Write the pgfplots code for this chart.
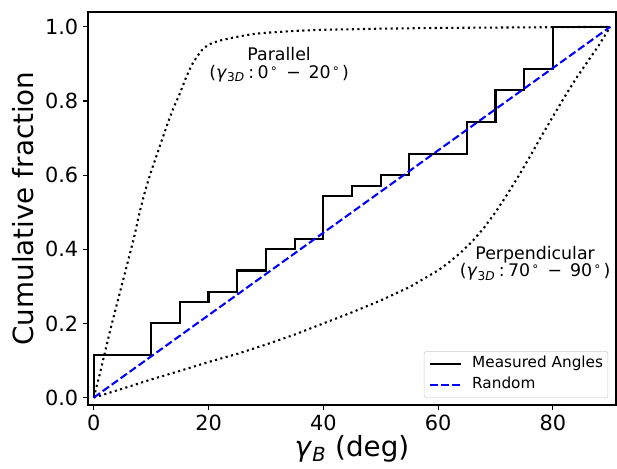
\documentclass[border=0pt]{standalone}
\usepackage{pgfplots}
\pgfplotsset{compat=1.18}
\usepackage{fontspec}
\setmainfont{DejaVu Sans}
\newcommand{\degsym}{\hspace{0.08em}\textsuperscript{∘}}
\begin{document}
\begin{tikzpicture}
\begin{axis}[
  scale only axis,
  width=380.2pt, height=283pt,
  xmin=-1, xmax=91, ymin=-0.02, ymax=1.04,
  axis line style={line width=0.8pt},
  tick pos=left,
  tick align=outside,
  major tick length=3.5pt,
  tick style={line width=0.8pt, black},
  xtick={0,20,40,60,80},
  ytick={0,0.2,0.4,0.6,0.8,1.0},
  /pgf/number format/assume math mode=true,
  yticklabel style={/pgf/number format/fixed, /pgf/number format/fixed zerofill, /pgf/number format/precision=1},
  ticklabel style={font=\fontsize{15}{18}\selectfont},
  xlabel={\textit{γ}\textsubscript{\textit{B}} (deg)},
  ylabel={Cumulative fraction},
  label style={font=\fontsize{20}{24}\selectfont},
  xlabel style={at={(axis description cs:0.5,-0.112)}, anchor=center},
  ylabel style={at={(axis description cs:-0.122,0.5)}, anchor=center},
  legend style={at={(axis description cs:1,0)}, anchor=south east, xshift=-5.6pt, yshift=5pt,
    draw=black!20, fill=white, fill opacity=0.8, text opacity=1, draw opacity=1,
    rounded corners=2pt, inner xsep=3.5pt, inner ysep=4.4pt, row sep=4.7pt, column sep=7.6pt,
    font=\fontsize{11}{13}\selectfont,
    nodes={inner sep=0pt, text height=0.75em, text depth=0.25em}},
  legend cell align=left,
  legend image code/.code={\draw[#1] (0pt,0pt) -- (22pt,0pt);},
]
% parallel model
\addplot[black, line width=1.5pt, dash pattern=on 1.5pt off 2.475pt, forget plot] coordinates {
(0,0)(0.5,0.03)(1,0.06)(2,0.125)(3,0.19)(4,0.25)(5,0.31)(6,0.37)(7,0.43)(8,0.50)(9,0.56)
(10,0.61)(11,0.655)(12,0.70)(13,0.745)(14,0.785)(15,0.82)(16,0.86)(17,0.895)(18,0.92)(19,0.94)
(20,0.952)(21,0.958)(22,0.963)(24,0.97)(26,0.976)(28,0.981)(30,0.984)(35,0.989)(40,0.992)
(50,0.995)(60,0.997)(70,0.998)(80,0.999)(90,1)};
% perpendicular model
\addplot[black, line width=1.5pt, dash pattern=on 1.5pt off 2.475pt, forget plot] coordinates {
(0,0)(5,0.024)(10,0.049)(15,0.072)(20,0.096)(25,0.118)(30,0.143)(35,0.17)(40,0.2)(45,0.23)
(50,0.262)(55,0.298)(60,0.343)(62,0.366)(64,0.392)(66,0.422)(68,0.458)(70,0.50)(72,0.547)
(74,0.597)(76,0.65)(78,0.705)(80,0.758)(82,0.81)(84,0.86)(86,0.905)(88,0.95)(90,1)};
% measured
\addplot[black, line width=1.5pt, const plot mark left] coordinates {
(0,0)(0,0.1143)(10,0.2)(15,0.2571)(20,0.2857)(25,0.3429)(30,0.4)(35,0.4286)(40,0.5429)
(45,0.5714)(50,0.6)(55,0.6571)(65,0.7429)(70,0.8286)(75,0.8857)(80,1)(90,1)};
\addlegendentry{Measured Angles}
% random
\addplot[blue, line width=1.5pt, dash pattern=on 5.55pt off 2.4pt] coordinates {(0,0)(90,1)};
\addlegendentry{Random}
\node[align=center, font=\fontsize{12.5}{12.5}\selectfont] at (axis cs:32.3,0.898)
  {Parallel\\(\textit{γ}\textsubscript{3\textit{D}}\hspace{0.2em}:\hspace{0.2em}0\degsym\hspace{0.45em}−\hspace{0.45em}20\degsym\hspace{0.1em})};
\node[align=center, font=\fontsize{12.5}{12.5}\selectfont] at (axis cs:76.9,0.362)
  {Perpendicular\\(\textit{γ}\textsubscript{3\textit{D}}\hspace{0.2em}:\hspace{0.2em}70\degsym\hspace{0.45em}−\hspace{0.45em}90\degsym\hspace{0.1em})};
\end{axis}
\pgfresetboundingbox
\path[use as bounding box] ([shift={(-63.36pt,-45.36pt)}]current axis.south west) rectangle ([shift={(0.72pt,8.64pt)}]current axis.north east);
\end{tikzpicture}
\end{document}
